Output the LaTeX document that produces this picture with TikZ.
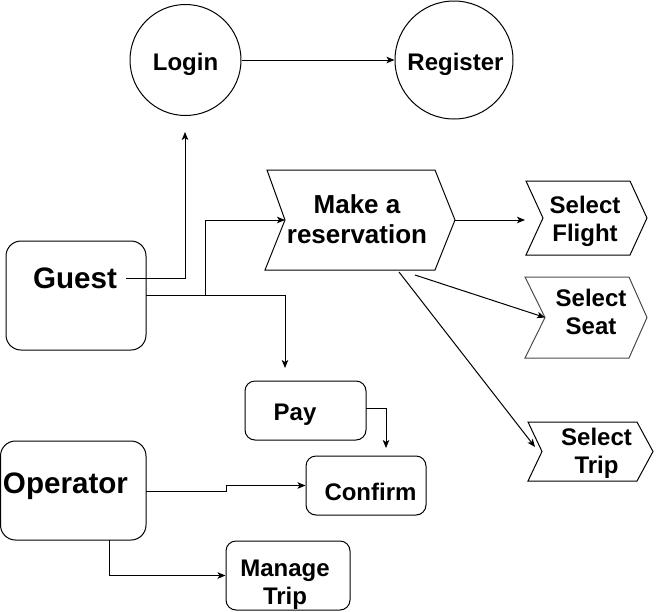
\documentclass[tikz,border=0pt]{standalone}
\usepackage{fontspec}
\setmainfont{Liberation Sans}
\usetikzlibrary{arrows.meta}
\begin{document}
\begin{tikzpicture}[x=1pt,y=-1pt,line width=1pt,
  rbox/.style={draw, inner sep=0pt, rounded corners=#1},
  lbl/.style={font=\bfseries\fontsize{24}{28.5}\selectfont, align=center, inner sep=0pt},
  mrlbl/.style={font=\bfseries\fontsize{26}{30}\selectfont, align=center, inner sep=0pt},
  biglbl/.style={font=\bfseries\fontsize{29.6}{34}\selectfont, inner sep=0pt, anchor=base},
  arr/.style={-{Stealth[length=8pt,width=6.5pt,inset=2pt]}},
  chev/.style={draw, line join=miter}]
\useasboundingbox (0,0) rectangle (656,611);

% circles
\node[circle, draw, minimum size=111pt, inner sep=0pt] (login) at (185.5,60) {};
\node[circle, draw, minimum size=118pt, inner sep=0pt] (register) at (454,60) {};
\node[lbl, anchor=base] (loginT) at (185.5,70) {Login};
\node[lbl, anchor=base] (registerT) at (455.5,70) {Register};

% rounded boxes
\node[rbox=15pt, minimum width=140pt, minimum height=109pt] (guest) at (76,295.5) {};
\node[biglbl] (guestT) at (75,288) {Guest};
\node[rbox=15pt, minimum width=145.5pt, minimum height=99pt] (op) at (73.25,490.5) {};
\node[biglbl] (opT) at (65.5,493) {Operator};
\node[rbox=10pt, minimum width=121pt, minimum height=59pt] (pay) at (305.5,410.5) {};
\node[lbl, anchor=base] (payT) at (295,420) {Pay};
\node[rbox=10pt, minimum width=120pt, minimum height=59pt] (confirm) at (366,485.5) {};
\node[lbl, anchor=base] (confirmT) at (370.5,500) {Confirm};
\node[rbox=10pt, minimum width=124pt, minimum height=69pt] (manage) at (288,575.5) {};
\node[lbl] (manageT) at (285,584.5) {Manage\\Trip};

% chevrons
\draw[chev] (267,170) -- (435,170) -- (455,220) -- (435,270) -- (265,270) -- (285,220) -- cycle;
\node[mrlbl] (mrT) at (357,219.6) {Make a\\reservation};
\draw[chev] (526,181) -- (630,181) -- (647,218) -- (630,255) -- (526,255) -- (543,218) -- cycle;
\node[lbl] (flightT) at (585,221.3) {Select\\Flight};
\draw[chev, draw=black!70] (525,277) -- (629,277) -- (647,317.5) -- (629,358) -- (525,358) -- (545,317.5) -- cycle;
\node[lbl] (seatT) at (591,312) {Select\\Seat};
\draw[chev] (528,422) -- (637,422) -- (653,451.5) -- (637,481) -- (528,481) -- (542,451.5) -- cycle;
\node[lbl] (tripT) at (596.5,453.3) {Select\\Trip};

% connector ends
\coordinate (gA) at (126,278);
\coordinate (loginIn) at (185,132);
\coordinate (g2) at (146,295);
\coordinate (j1) at (205,295);
\coordinate (payIn) at (285,368);
\coordinate (mrNotch) at (285,220);
\coordinate (mrTip) at (455,220);
\coordinate (flIn) at (525,220);
\coordinate (mrS) at (415,275);
\coordinate (seatIn) at (545,317.5);
\coordinate (mrTr) at (399,272);
\coordinate (tripIn) at (535,447);
\coordinate (payE) at (365.5,408);
\coordinate (confIn) at (386,448);
\coordinate (opE) at (146,491);
\coordinate (opJ) at (226,491);
\coordinate (opS) at (109,540);

% connectors
\draw[arr] (login) -- (register);
\draw[arr] (gA) -| (loginIn);
\draw[arr] (g2) -| (payIn);
\draw[arr] (j1) |- (mrNotch);
\draw[arr] (mrTip) -- (flIn);
\draw[arr] (mrS) -- (seatIn);
\draw[arr] (mrTr) -- (tripIn);
\draw[arr] (payE) -| (confIn);
\draw[arr] (opE) -- (opJ) |- (confirm.west);
\draw[arr] (opS) |- (manage.west);
\end{tikzpicture}
\end{document}
